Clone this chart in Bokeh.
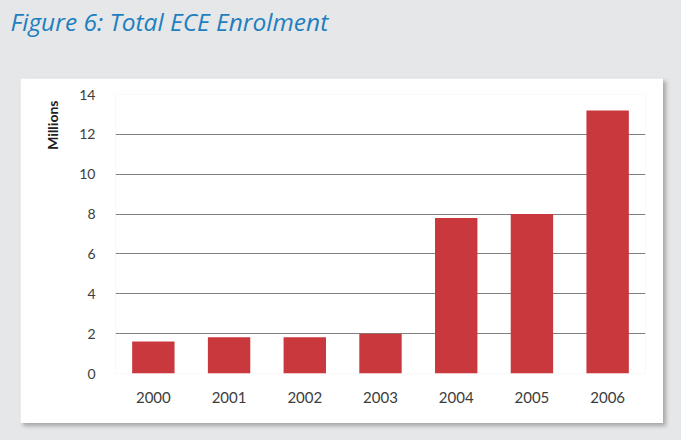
from bokeh.plotting import figure
from bokeh.layouts import column
from bokeh.models import ColumnDataSource, FactorRange, Range1d, FixedTicker, Title
from bokeh.embed import file_html
from bokeh.resources import INLINE

years = ["2000", "2001", "2002", "2003", "2004", "2005", "2006"]
enrolment = [1.6, 1.82, 1.82, 2.0, 7.8, 8.0, 13.2]
y_ticks = [0, 2, 4, 6, 8, 10, 12, 14]
title_text = "Figure 6: Total ECE Enrolment"
y_label = "Millions"

BG = "#e6e7e8"
BAR = "#c8383d"

# title strip (its frame is aligned by the column with the chart's frame)
t = figure(width=681, height=76, x_range=Range1d(0, 1), y_range=Range1d(0, 1),
           x_axis_type=None, y_axis_type=None, output_backend="svg", toolbar_location=None,
           min_border=0, min_border_left=0, min_border_right=0,
           min_border_top=0, min_border_bottom=0)
t.margin = (2, 0, 0, 0)
t.title = Title(text=title_text, align="left", offset=-85, standoff=0,
                text_font="Open Sans", text_font_style="italic", text_font_size="24.5px",
                text_color="#1e7fc0")
t.border_fill_color = BG
t.background_fill_color = BG
t.outline_line_color = None
t.grid.visible = False

# chart panel
src = ColumnDataSource(dict(year=years, value=enrolment))
p = figure(width=643, height=345, x_range=FactorRange(*years, range_padding=0),
           y_range=Range1d(0, 14), output_backend="svg", toolbar_location=None,
           title=None, min_border_left=95, min_border_right=18,
           min_border_top=16, min_border_bottom=50)
p.margin = (0, 18, 17, 20)
p.styles = {"box-shadow": "3px 3px 4px rgba(0,0,0,0.28)"}
p.border_fill_color = "white"
p.background_fill_color = "white"
p.outline_line_color = None

p.vbar(x="year", top="value", width=0.56, source=src, fill_color=BAR, line_color=None)

p.xgrid.grid_line_color = None
p.ygrid.grid_line_color = "#808080"
p.ygrid.grid_line_width = 1
p.yaxis.ticker = FixedTicker(ticks=y_ticks)

for ax in (p.xaxis[0], p.yaxis[0]):
    ax.axis_line_color = None
    ax.major_tick_line_color = None
    ax.minor_tick_line_color = None
    ax.major_tick_out = 0
    ax.major_tick_in = 0
    ax.minor_tick_out = 0
    ax.major_label_text_font = "Lato"
    ax.major_label_text_color = "#3c3c3c"
p.xaxis.major_label_text_font_size = "15px"
p.yaxis.major_label_text_font_size = "14px"
p.yaxis.major_label_standoff = 20
p.xaxis.major_label_standoff = 18

p.add_layout(Title(text=y_label, align="right", offset=6, standoff=32,
                   text_font="Lato", text_font_style="bold", text_font_size="14px",
                   text_color="#202020"), "left")

root = column(t, p, styles={"background-color": BG}, spacing=0)
open("out.html", "w").write(file_html(root, INLINE))
